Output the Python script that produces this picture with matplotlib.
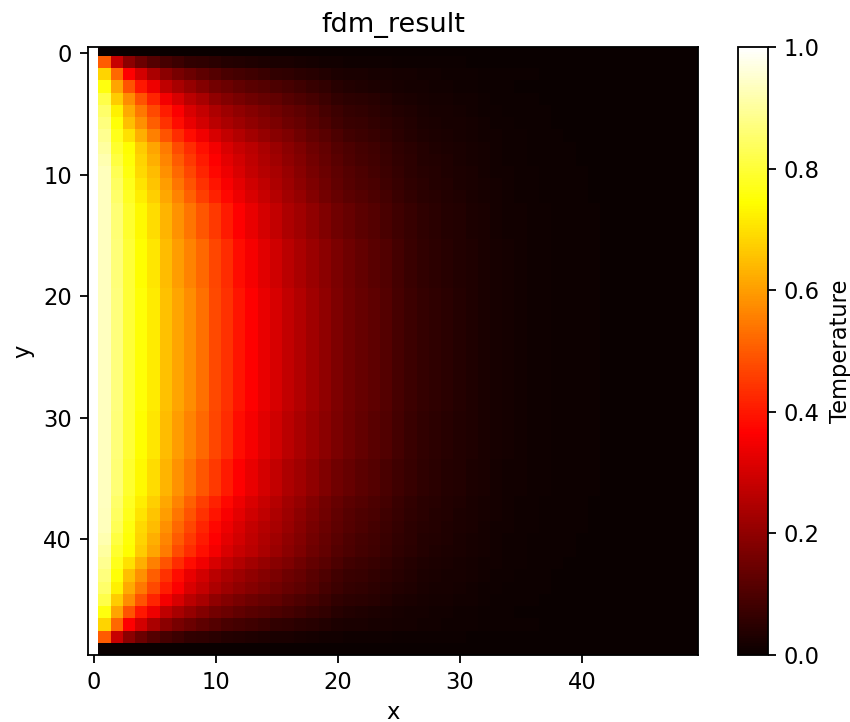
import numpy as np
import matplotlib
matplotlib.use('Agg')
import matplotlib.pyplot as plt

# Temperature, in thousandths, one list per distinct row
row_00 = [1000] + [0] * 49
row_01 = [1000,500,285,195,145,110,90,75,60,55,50,40,38,34,30,27,24,21,18,15,12,
          11,10,9,8,7,6,5,5,4,4,3,3,3,2,2,2,2,1,1,1,1,1,1,0,0,0,0,0,0]
row_02 = [1000,680,520,365,300,240,195,165,145,125,110,95,87,80,72,62,55,50,44,38,30,
          27,24,22,20,18,16,14,12,10,9,8,7,6,5,4,4,3,3,2,2,2,1,1,1,1,1,0,0,0]
row_03 = [1000,760,610,490,400,340,270,235,210,180,160,145,130,120,110,100,90,80,70,60,45,
          39,35,31,27,23,19,16,14,12,10,8,7,5,4,3,3,2,2,1,1,1,1,1,0,0,0,0,0,0]
row_04 = [1000,820,670,575,490,420,350,305,265,235,200,180,165,150,140,130,115,105,90,78,62,
          53,48,43,37,31,26,21,19,16,14,12,9,7,6,5,4,3,2,2,2,1,1,1,1,1,0,0,0,0]
row_05 = [1000,850,725,620,545,475,410,360,310,280,245,220,200,185,170,155,140,125,110,93,76,
          65,59,52,46,39,32,26,23,20,17,14,11,9,7,6,5,4,3,3,2,2,1,1,1,1,0,0,0,0]
row_06 = [1000,870,750,650,580,505,440,385,335,300,265,240,220,200,185,170,152,137,120,103,85,
          74,67,60,53,44,36,30,27,23,20,16,13,10,8,7,5,4,3,3,2,2,1,1,1,1,0,0,0,0]
row_07 = [1000,890,770,700,625,555,490,430,385,345,305,275,250,230,210,190,172,155,136,118,98,
          85,77,69,60,50,42,35,31,26,22,19,15,12,9,8,6,5,4,3,3,2,2,2,1,1,1,0,0,0]
row_08 = [1000,905,790,745,670,610,550,480,430,390,350,310,285,265,240,215,195,172,152,133,112,
          98,88,79,69,58,48,40,35,30,26,21,17,13,11,9,7,6,4,4,3,3,2,2,1,1,1,1,0,0]
row_09 = [1000,918,810,752,680,625,565,500,450,405,365,325,298,272,248,225,203,180,160,140,118,
          104,93,84,73,61,51,42,37,32,27,23,18,14,11,9,7,6,5,4,3,3,2,2,1,1,1,1,0,0]
row_10 = [1000,930,830,760,690,645,580,520,470,420,375,340,310,280,255,235,212,190,165,145,125,
          110,99,89,78,65,54,45,40,34,29,24,19,15,12,10,8,6,5,4,4,3,2,2,1,1,1,1,0,0]
row_11 = [1000,933,840,770,705,660,600,540,490,440,395,358,325,295,270,245,222,198,175,153,132,
          116,105,94,82,69,57,47,42,36,31,26,20,16,13,10,8,7,5,4,4,3,2,2,2,1,1,1,0,0]
row_12 = [1000,935,850,780,720,675,615,560,510,460,415,375,340,310,282,257,230,208,183,160,140,
          124,112,100,88,74,61,50,45,38,33,27,22,17,14,11,9,7,6,5,4,3,3,2,2,2,1,1,1,0]
row_14 = [1000,936,860,790,735,695,635,585,540,495,450,405,365,335,303,275,245,225,200,178,155,
          137,124,111,97,81,67,56,50,42,36,30,24,19,15,12,10,8,6,5,4,4,3,3,2,2,1,1,1,0]
row_17 = [1000,936,865,797,745,708,648,600,562,520,470,430,385,355,322,295,265,242,217,192,168,
          149,134,120,106,88,73,60,54,46,39,33,26,20,16,13,11,9,7,6,5,4,3,3,2,2,1,1,1,0]
row_24 = [1000,936,870,800,750,715,655,610,575,535,475,440,395,365,335,305,275,250,225,200,175,
          155,140,125,110,92,76,63,56,48,41,34,27,21,17,14,11,9,7,6,5,4,3,3,2,2,1,1,1,0]

# which list each row of the top half shows, the bottom half is its mirror
top_rows = [row_00, row_01, row_02, row_03, row_04, row_05, row_06, row_07, row_08,
            row_09, row_10, row_11, row_12, row_14, row_14, row_14, row_17, row_17,
            row_17, row_17, row_24, row_24, row_24, row_24, row_24]

x_ticks = [0, 10, 20, 30, 40]
y_ticks = [0, 10, 20, 30, 40]
cbar_ticks = [0.0, 0.2, 0.4, 0.6, 0.8, 1.0]

T = np.array(top_rows + top_rows[::-1]) / 1000

W, H, DPI = 851, 722, 163
fig = plt.figure(figsize=(W / DPI, H / DPI), dpi=DPI)
ax = fig.add_axes([88 / W, 1 - 655 / H, 610 / W, 608 / H])
# first row and column are partly cut by the frame in the picture
im = ax.imshow(T, cmap='hot', vmin=0, vmax=1, aspect='auto',
               extent=(-0.64, 49.5, 49.5, -0.76))
ax.set_xlim(-0.5, 49.5)
ax.set_ylim(49.5, -0.5)
ax.set_title('fdm_result', pad=6.5)
ax.set_xlabel('x', labelpad=3)
ax.set_ylabel('y')
ax.set_xticks(x_ticks)
ax.set_yticks(y_ticks)

cax = fig.add_axes([738 / W, 1 - 655 / H, 30 / W, 608 / H])
cbar = fig.colorbar(im, cax=cax, ticks=cbar_ticks)
cbar.set_label('Temperature')

fig.savefig('out.png', dpi=DPI)
